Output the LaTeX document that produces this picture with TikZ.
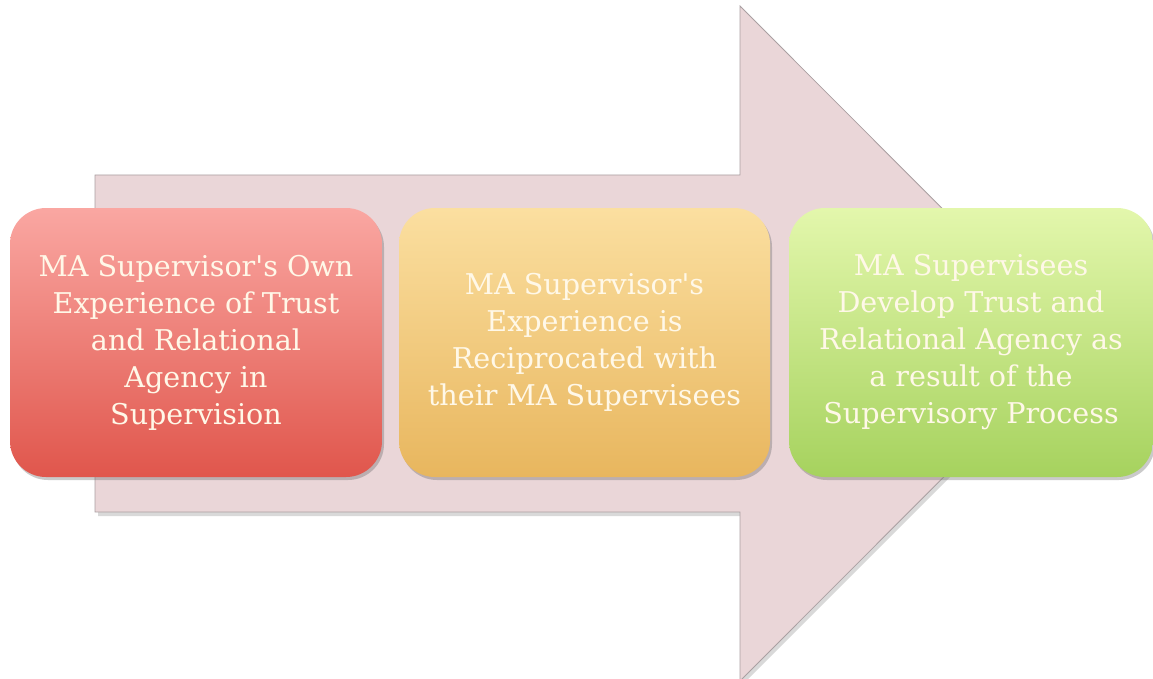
\documentclass[tikz,border=0pt]{standalone}
\usepackage{fontspec}
\usepackage{textcomp}
\setmainfont{DejaVu Serif}
\usetikzlibrary{shadows,shapes.misc}
\definecolor{arrowfill}{RGB}{234,214,216}
\definecolor{arrowline}{RGB}{170,160,162}
\definecolor{redtop}{RGB}{250,167,162}
\definecolor{redbot}{RGB}{224,86,76}
\definecolor{ortop}{RGB}{251,223,160}
\definecolor{orbot}{RGB}{232,182,94}
\definecolor{grtop}{RGB}{227,247,172}
\definecolor{grbot}{RGB}{166,210,94}
\definecolor{txt}{RGB}{255,248,232}
\newcommand{\apo}{\textquotesingle}
\tikzset{
  stagebox/.style={rounded corners=36pt, minimum width=#1, minimum height=269pt,
    inner sep=0pt, align=center, text=txt,
    font=\fontsize{28.6}{37}\selectfont,
    drop shadow={shadow xshift=2pt, shadow yshift=-3pt, opacity=0.35, fill=black!60}},
}
\begin{document}
\begin{tikzpicture}[x=1pt,y=-1pt]
\useasboundingbox (0,0) rectangle (1153,679);
\begin{scope}
\clip (0,0) rectangle (1153,679);
\fill[black!25, opacity=0.6] (98,179) -- (743,179) -- (743,10) -- (1080,347) -- (743,684) -- (743,516) -- (98,516) -- cycle;
\draw[fill=arrowfill, draw=arrowline, line width=0.8pt] (95,175) -- (740,175) -- (740,6) -- (1077,343.5) -- (740,681) -- (740,512) -- (95,512) -- cycle;
\end{scope}
\node[stagebox=372pt, top color=redtop, bottom color=redbot] (s1) at (196,342.5)
  {MA Supervisor\apo s Own\\Experience of Trust\\and Relational\\Agency in\\Supervision};
\node[stagebox=371pt, top color=ortop, bottom color=orbot] (s2) at (584.5,342.5)
  {MA Supervisor\apo s\\Experience is\\Reciprocated with\\their MA Supervisees};
\node[stagebox=364pt, top color=grtop, bottom color=grbot] (s3) at (971,342.5)
  {MA Supervisees\\Develop Trust and\\Relational Agency as\\a result of the\\Supervisory Process};
\end{tikzpicture}
\end{document}
